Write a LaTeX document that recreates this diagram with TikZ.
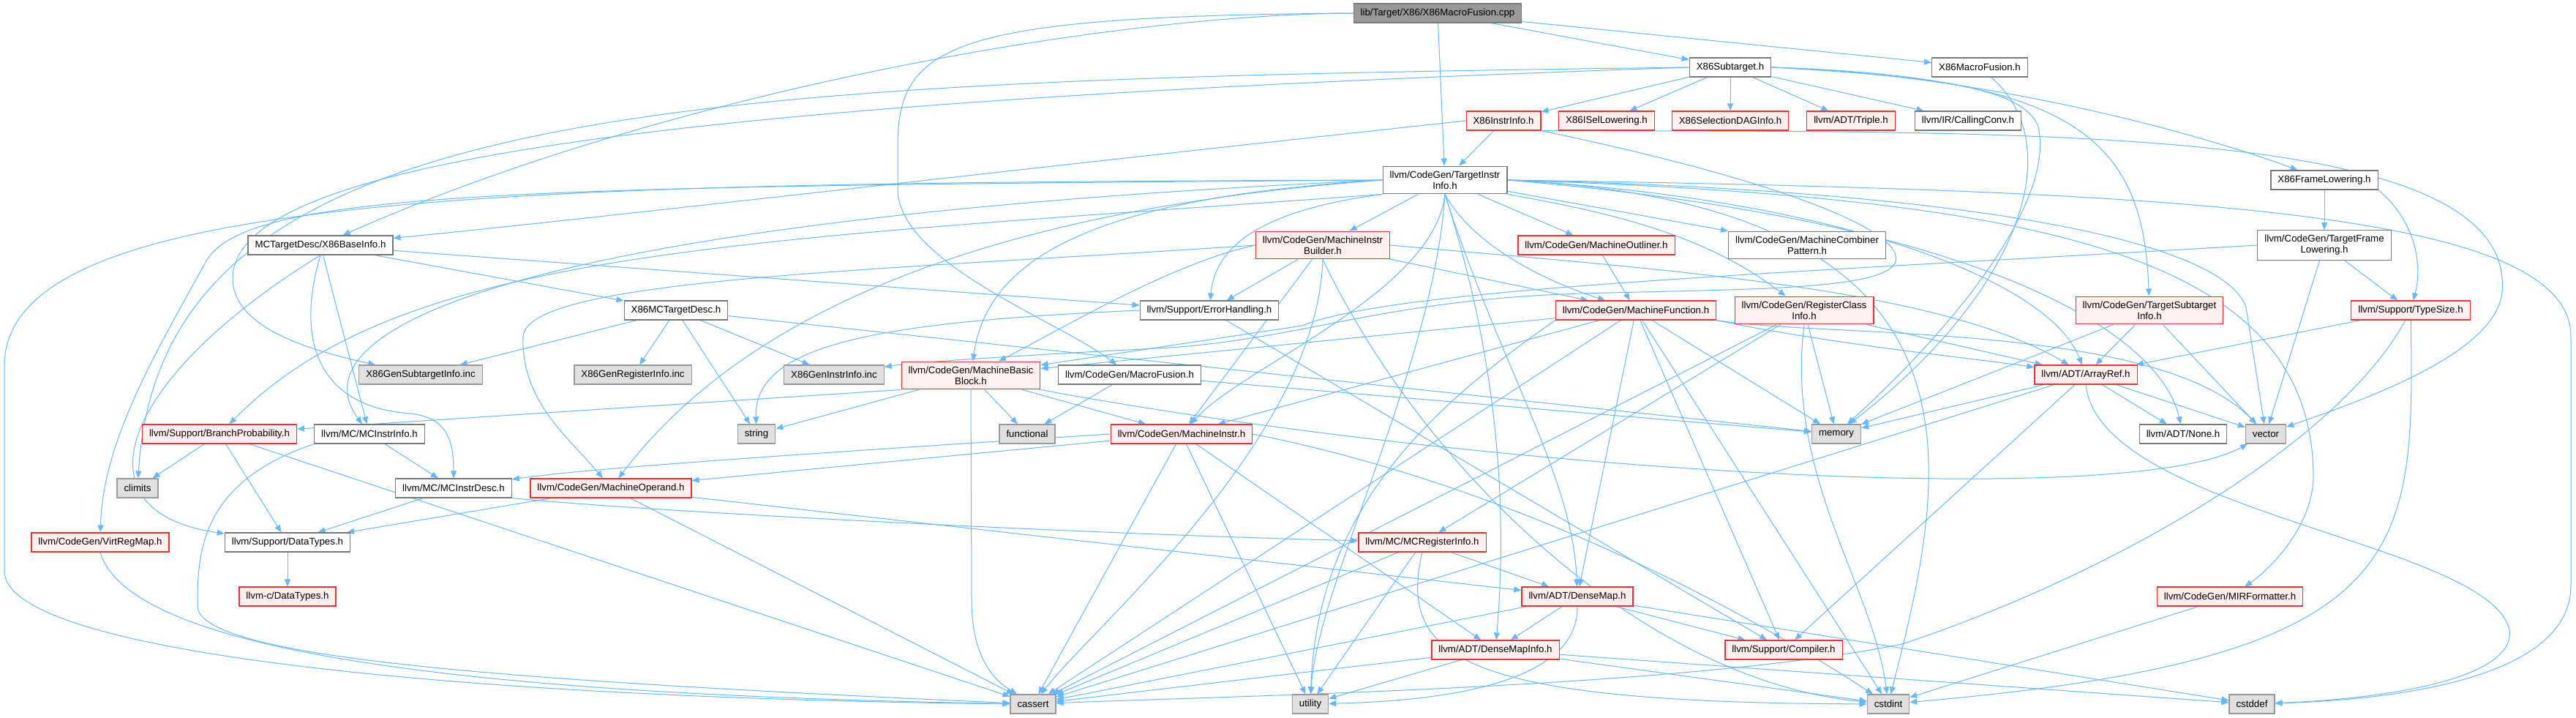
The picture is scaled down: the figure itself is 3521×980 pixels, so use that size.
\documentclass[tikz,border=0pt]{standalone}
\usepackage{fontspec}
\setmainfont{Liberation Sans}
\usetikzlibrary{arrows.meta,backgrounds}

\definecolor{edgeblue}{HTML}{63B8FF}
\definecolor{boxgray}{HTML}{777777}
\definecolor{sysgray}{HTML}{999999}
\definecolor{sysfill}{HTML}{E0E0E0}
\definecolor{redline}{HTML}{F03030}
\definecolor{redfill}{HTML}{FFF0F0}
\definecolor{rootfill}{HTML}{999999}

\begin{document}
\begin{tikzpicture}[x=1pt,y=-1pt,
 file/.style={draw=boxgray,fill=white,line width=1.2pt,minimum height=26pt,
 inner xsep=9.5pt,inner ysep=6.5pt,align=center,
 font=\fontsize{13.3pt}{15pt}\selectfont},
 redfile/.style={file,draw=redline,fill=redfill},
 sysfile/.style={file,draw=sysgray,fill=sysfill},
 mainfile/.style={file,draw=boxgray,fill=rootfill},
 dep/.style={->,draw=edgeblue,fill=none,line width=1pt},
 >={Triangle[length=10pt,width=8pt]}]
\useasboundingbox (0,0) rectangle (3521,980);

\node[mainfile] (root) at (1965,18) {lib/Target/X86/X86MacroFusion.cpp};
\node[file] (sub) at (2365,92) {X86Subtarget.h};
\node[file] (xmfh) at (2706,92) {X86MacroFusion.h};
\node[redfile] (xii) at (2055,165) {X86InstrInfo.h};
\node[redfile] (xisel) at (2196,165) {X86ISelLowering.h};
\node[redfile] (xsdag) at (2365,165) {X86SelectionDAGInfo.h};
\node[redfile] (triple) at (2530,165) {llvm/ADT/Triple.h};
\node[file] (cconv) at (2690,165) {llvm/IR/CallingConv.h};
\node[file] (tii) at (1975,246) {llvm/CodeGen/TargetInstr\\Info.h};
\node[file] (xfl) at (3177,246) {X86FrameLowering.h};
\node[file] (xbi) at (438,335) {MCTargetDesc/X86BaseInfo.h};
\node[redfile] (mib) at (1808,335) {llvm/CodeGen/MachineInstr\\Builder.h};
\node[redfile] (mout) at (2182,335) {llvm/CodeGen/MachineOutliner.h};
\node[file] (mcomb) at (2470,335) {llvm/CodeGen/MachineCombiner\\Pattern.h};
\node[file] (tfl) at (3177,335) {llvm/CodeGen/TargetFrame\\Lowering.h};
\node[file] (xmcd) at (924,424) {X86MCTargetDesc.h};
\node[file] (eh) at (1653,424) {llvm/Support/ErrorHandling.h};
\node[redfile] (mf) at (2236,424) {llvm/CodeGen/MachineFunction.h};
\node[redfile] (rci) at (2466,424) {llvm/CodeGen/RegisterClass\\Info.h};
\node[redfile] (tsi) at (2938,424) {llvm/CodeGen/TargetSubtarget\\Info.h};
\node[redfile] (tsize) at (3295,424) {llvm/Support/TypeSize.h};
\node[sysfile] (gsub) at (575,512) {X86GenSubtargetInfo.inc};
\node[sysfile] (greg) at (865,512) {X86GenRegisterInfo.inc};
\node[sysfile] (ginstr) at (1140,512) {X86GenInstrInfo.inc};
\node[redfile] (mbb) at (1327,513) {llvm/CodeGen/MachineBasic\\Block.h};
\node[file] (mfus) at (1544,512) {llvm/CodeGen/MacroFusion.h};
\node[redfile] (aref) at (2851,512) {llvm/ADT/ArrayRef.h};
\node[redfile] (bp) at (300,593) {llvm/Support/BranchProbability.h};
\node[file] (mcii) at (505,593) {llvm/MC/MCInstrInfo.h};
\node[sysfile] (str) at (1034,593) {string};
\node[sysfile] (func) at (1404,593) {functional};
\node[redfile] (mi) at (1615,593) {llvm/CodeGen/MachineInstr.h};
\node[sysfile] (mem) at (2510,593) {memory};
\node[file] (none) at (2984,593) {llvm/ADT/None.h};
\node[sysfile] (vec) at (3097,593) {vector};
\node[sysfile] (climits) at (188,667) {climits};
\node[file] (mcid) at (620,667) {llvm/MC/MCInstrDesc.h};
\node[redfile] (mop) at (835,667) {llvm/CodeGen/MachineOperand.h};
\node[redfile] (vrm) at (137,741) {llvm/CodeGen/VirtRegMap.h};
\node[file] (dtypes) at (393,741) {llvm/Support/DataTypes.h};
\node[redfile] (mcri) at (1944,741) {llvm/MC/MCRegisterInfo.h};
\node[redfile] (cdtypes) at (393,815) {llvm-c/DataTypes.h};
\node[redfile] (dmap) at (2156,815) {llvm/ADT/DenseMap.h};
\node[redfile] (mirf) at (3048,815) {llvm/CodeGen/MIRFormatter.h};
\node[redfile] (dmi) at (2044,888) {llvm/ADT/DenseMapInfo.h};
\node[redfile] (comp) at (2438,888) {llvm/Support/Compiler.h};
\node[sysfile] (cassert) at (1412,962) {cassert};
\node[sysfile] (util) at (1791,962) {utility};
\node[sysfile] (cstdint) at (2581,962) {cstdint};
\node[sysfile] (cstddef) at (3078,962) {cstddef};

\begin{pgfonlayer}{background}
\draw[dep] (root)--(sub);
\draw[dep] (root)--(xmfh);
\draw[dep] (root)--(tii);
\draw[dep] (root.west) .. controls (1500,20) and (900,130) .. (xbi);
\draw[dep] (root.west) .. controls (1300,22) and (1227,60) .. (1227,200) -- (1227,260) .. controls (1230,360) and (1450,440) .. (mfus);
\draw[dep] (xmfh) .. controls (2830,200) and (2760,400) .. (mem);

\draw[dep] (sub)--(xii);
\draw[dep] (sub)--(xisel);
\draw[dep] (sub)--(xsdag);
\draw[dep] (sub)--(triple);
\draw[dep] (sub)--(cconv);
\draw[dep] (sub.east) .. controls (2700,100) and (3000,180) .. (xfl);
\draw[dep] (sub.east) .. controls (2850,105) and (2930,200) .. (tsi);
\draw[dep] (sub.east) .. controls (2650,105) and (2760,120) .. (2785,170) .. controls (2810,260) and (2700,420) .. (mem);
\draw[dep] (sub.west) .. controls (900,110) and (220,140) .. (climits);
\draw[dep] (sub.west) .. controls (900,140) and (320,220) .. (318,380) .. controls (318,450) and (430,480) .. (gsub);

\draw[dep] (xii)--(tii);
\draw[dep] (xii.west) .. controls (1400,230) and (800,300) .. (xbi);
\draw[dep] (xii.south east) .. controls (2800,180) and (3440,170) .. (3420,400) .. controls (3410,480) and (3250,540) .. (vec);
\draw[dep] (xii.south east) .. controls (2450,250) and (2610,320) .. (2590,360) .. controls (2570,395) and (2400,395) .. (2200,400) .. controls (1900,405) and (1800,460) .. (1600,475) .. controls (1400,485) and (1250,495) .. (ginstr);

\draw[dep] (xfl)--(tfl);
\draw[dep] (xfl.south east) .. controls (3300,300) and (3312,360) .. (tsize);
\draw[dep] (tfl)--(tsize);
\draw[dep] (tfl)--(vec);
\draw[dep] (tfl.west) .. controls (2400,375) and (1900,395) .. (1780,445) -- (mbb);

\draw[dep] (tii)--(mib);
\draw[dep] (tii)--(mout);
\draw[dep] (tii)--(mcomb);
\draw[dep] (tii.south east) .. controls (2200,290) and (2330,320) .. (rci);
\draw[dep] (tii.south) .. controls (2010,330) and (2100,380) .. (mf);
\draw[dep] (tii.west) .. controls (1500,270) and (1350,350) .. (mbb);
\draw[dep] (tii.south) .. controls (1960,400) and (1700,500) .. (mi);
\draw[dep] (tii.west) .. controls (1300,290) and (1000,450) .. (mop);
\draw[dep] (tii.west) .. controls (700,255) and (330,260) .. (280,360) .. controls (220,470) and (140,600) .. (vrm);
\draw[dep] (tii.west) .. controls (700,300) and (400,450) .. (mcii);
\draw[dep] (tii.south west) .. controls (1000,330) and (550,340) .. (bp);
\draw[dep] (tii.south west) .. controls (1700,290) and (1660,350) .. (eh);
\draw[dep] (tii.east) .. controls (2500,270) and (2800,380) .. (aref);
\draw[dep] (tii.south) .. controls (2050,500) and (2150,650) .. (dmap);
\draw[dep] (tii.south) .. controls (2050,500) and (2060,700) .. (dmi);
\draw[dep] (tii.east) .. controls (2700,300) and (2950,450) .. (none);
\draw[dep] (tii.east) .. controls (2800,270) and (3160,350) .. (3162,650) .. controls (3162,720) and (3100,780) .. (mirf);
\draw[dep] (tii.west) .. controls (700,250) and (6,260) .. (6,500) -- (6,780) .. controls (6,900) and (700,955) .. (cassert);
\draw[dep] (tii.east) .. controls (3000,260) and (3514,290) .. (3514,460) -- (3514,800) .. controls (3514,920) and (3300,955) .. (cstddef);
\draw[dep] (tii.east) .. controls (2750,280) and (2660,650) .. (cstdint);
\draw[dep] (tii.south) .. controls (1960,500) and (1800,800) .. (util);
\draw[dep] (tii.east) .. controls (2700,260) and (3040,330) .. (3070,420) -- (vec);

\draw[dep] (mib.east) .. controls (2300,370) and (2650,395) .. (aref);
\draw[dep] (mib.west) .. controls (1600,360) and (1450,450) .. (mbb);
\draw[dep] (mib)--(mf);
\draw[dep] (mib)--(mi);
\draw[dep] (mib)--(eh);
\draw[dep] (mib.west) .. controls (1200,370) and (720,380) .. (715,460) .. controls (712,550) and (780,600) .. (mop);
\draw[dep] (mib.south) .. controls (1800,600) and (1500,850) .. (cassert);
\draw[dep] (mib.south) .. controls (1950,650) and (2250,930) .. (cstdint);
\draw[dep] (mout)--(mf);

\draw[dep] (mf.south east) .. controls (2500,470) and (2700,490) .. (aref);
\draw[dep] (mf)--(dmap);
\draw[dep] (mf)--(mbb);
\draw[dep] (mf)--(mi);
\draw[dep] (mf)--(comp);
\draw[dep] (mf)--(cassert);
\draw[dep] (mf)--(cstdint);
\draw[dep] (mf)--(mem);
\draw[dep] (mf.south west) .. controls (1950,560) and (1800,700) .. (util);
\draw[dep] (mf.south east) .. controls (2500,462) and (2950,440) .. (vec);

\draw[dep] (rci)--(aref);
\draw[dep] (rci)--(mcri);
\draw[dep] (rci)--(cassert);
\draw[dep] (rci.south) .. controls (2440,650) and (2560,800) .. (cstdint);
\draw[dep] (rci)--(mem);
\draw[dep] (tsi)--(aref);
\draw[dep] (tsi)--(mem);
\draw[dep] (tsi)--(vec);
\draw[dep] (tsize)--(aref);
\draw[dep] (tsize) .. controls (3200,600) and (2900,780) .. (2600,880) .. controls (2300,940) and (1700,950) .. (cassert);
\draw[dep] (tsize) .. controls (3300,760) and (3300,900) .. (cstdint);

\draw[dep] (xbi)--(xmcd);
\draw[dep] (xbi)--(mcii);
\draw[dep] (xbi.south) .. controls (405,460) and (430,555) .. (560,565) .. controls (610,570) and (620,600) .. (mcid);
\draw[dep] (xbi.south) .. controls (160,520) and (100,700) .. (dtypes);
\draw[dep] (xbi)--(eh);
\draw[dep] (xmcd)--(gsub);
\draw[dep] (xmcd)--(greg);
\draw[dep] (xmcd)--(ginstr);
\draw[dep] (xmcd)--(str);
\draw[dep] (xmcd)--(mem);

\draw[dep] (mbb.south west)--(bp);
\draw[dep] (mbb)--(mi);
\draw[dep] (mbb)--(str);
\draw[dep] (mbb)--(func);
\draw[dep] (mbb.south) -- (1328,820) .. controls (1328,900) and (1360,930) .. (cassert);
\draw[dep] (mbb.south east) .. controls (2000,640) and (2900,700) .. (vec);
\draw[dep] (mfus)--(func);
\draw[dep] (mfus)--(mem);
\draw[dep] (eh.west) .. controls (1200,440) and (1030,470) .. (str);
\draw[dep] (eh)--(comp);

\draw[dep] (aref)--(none);
\draw[dep] (aref)--(vec);
\draw[dep] (aref)--(mem);
\draw[dep] (aref)--(comp);
\draw[dep] (aref)--(cassert);
\draw[dep] (aref.south) .. controls (2870,700) and (3400,740) .. (3430,860) .. controls (3440,930) and (3250,955) .. (cstddef);

\draw[dep] (bp)--(climits);
\draw[dep] (bp)--(dtypes);
\draw[dep] (bp)--(cassert);
\draw[dep] (mcii)--(mcid);
\draw[dep] (mcii.south west) .. controls (270,660) and (270,760) .. (270,830) .. controls (280,900) and (700,930) .. (cassert);
\draw[dep] (mi.west) .. controls (1100,620) and (800,640) .. (mcid);
\draw[dep] (mi)--(mop);
\draw[dep] (mi)--(dmi);
\draw[dep] (mi)--(cassert);
\draw[dep] (mi.east) .. controls (2000,650) and (2300,780) .. (cstdint);
\draw[dep] (mi)--(util);
\draw[dep] (mcid)--(dtypes);
\draw[dep] (mcid.south east) .. controls (900,700) and (1500,730) .. (mcri);
\draw[dep] (mop)--(dtypes);
\draw[dep] (mop)--(dmap);
\draw[dep] (mop)--(cassert);
\draw[dep] (vrm.south) .. controls (180,900) and (700,950) .. (cassert);
\draw[dep] (dtypes)--(cdtypes);

\draw[dep] (mcri)--(dmap);
\draw[dep] (mcri)--(cassert);
\draw[dep] (mcri)--(util);
\draw[dep] (mcri.south) .. controls (1910,900) and (2000,960) .. (cstdint);
\draw[dep] (dmap)--(dmi);
\draw[dep] (dmap)--(comp);
\draw[dep] (dmap)--(cassert);
\draw[dep] (dmap.south) .. controls (2158,940) and (1950,958) .. (util);
\draw[dep] (dmap)--(cstddef);
\draw[dep] (dmi)--(cassert);
\draw[dep] (dmi)--(util);
\draw[dep] (dmi)--(cstdint);
\draw[dep] (dmi)--(cstddef);
\draw[dep] (mirf)--(cstdint);
\end{pgfonlayer}
\end{tikzpicture}
\end{document}
